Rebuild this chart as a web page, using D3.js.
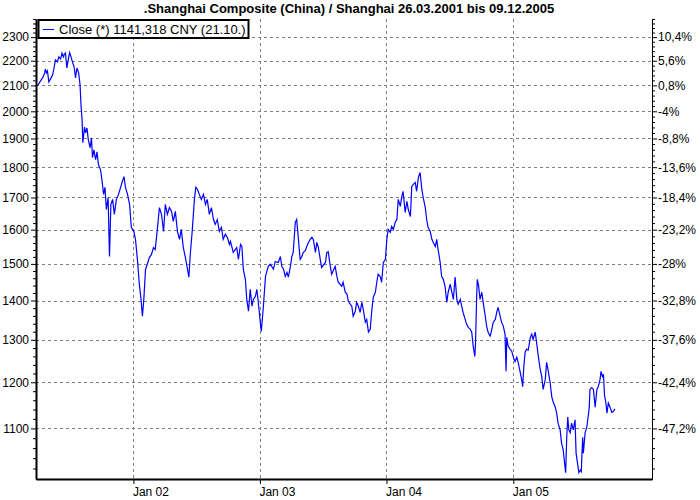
<!DOCTYPE html>
<html>
<head>
<meta charset="utf-8">
<script src="https://cdn.jsdelivr.net/npm/d3@7"></script>
<style>
  body { margin: 0; background: #fff; }
  svg { display: block; }
</style>
</head>
<body>
<div id="chart"></div>
<script>
// daily closes (date, CNY)
var closes2001 = [
  ["2001-03-27",2097],["2001-04-02",2104],["2001-04-08",2118],["2001-04-14",2130],["2001-04-20",2150],["2001-04-22",2166],["2001-04-25",2150],["2001-04-28",2158],
  ["2001-05-02",2114],["2001-05-07",2126],["2001-05-13",2142],["2001-05-17",2170],["2001-05-21",2203],["2001-05-27",2195],["2001-05-31",2216],
  ["2001-06-05",2207],["2001-06-09",2232],["2001-06-13",2216],["2001-06-16",2228],["2001-06-19",2232],["2001-06-23",2170],["2001-06-28",2212],
  ["2001-07-01",2234],["2001-07-05",2216],["2001-07-09",2195],["2001-07-14",2174],["2001-07-18",2130],["2001-07-22",2170],["2001-07-27",2150],["2001-07-31",2104],
  ["2001-08-03",2020],["2001-08-06",1967],["2001-08-08",1885],["2001-08-13",1941],["2001-08-16",1920],["2001-08-20",1938],["2001-08-24",1895],["2001-08-29",1867],
  ["2001-09-02",1902],["2001-09-05",1833],["2001-09-09",1860],["2001-09-14",1826],["2001-09-18",1853],["2001-09-22",1809],["2001-09-28",1792],
  ["2001-10-02",1759],["2001-10-07",1710],["2001-10-11",1733],["2001-10-15",1662],["2001-10-20",1700],["2001-10-24",1521],["2001-10-28",1678],
  ["2001-11-02",1694],["2001-11-07",1647],["2001-11-13",1694],["2001-11-19",1710],["2001-11-25",1733],["2001-11-30",1752],
  ["2001-12-05",1768],["2001-12-09",1733],["2001-12-15",1710],["2001-12-21",1678],["2001-12-26",1607]
];
var closes2002 = [
  ["2002-01-02",1595],["2002-01-07",1571],["2002-01-13",1507],["2002-01-18",1444],["2002-01-23",1403],["2002-01-27",1359],["2002-01-31",1403],
  ["2002-02-05",1485],["2002-02-10",1499],["2002-02-16",1518],["2002-02-22",1527],["2002-02-28",1547],
  ["2002-03-05",1541],["2002-03-11",1601],["2002-03-17",1668],["2002-03-23",1647],["2002-03-29",1595],
  ["2002-04-03",1678],["2002-04-09",1647],["2002-04-15",1668],["2002-04-21",1656],["2002-04-26",1625],
  ["2002-05-02",1656],["2002-05-08",1595],["2002-05-14",1571],["2002-05-19",1601],["2002-05-25",1547],["2002-05-31",1518],
  ["2002-06-06",1485],["2002-06-10",1463],["2002-06-14",1527],["2002-06-20",1601],["2002-06-26",1694],["2002-06-30",1733],
  ["2002-07-05",1726],["2002-07-10",1710],["2002-07-16",1694],["2002-07-22",1710],["2002-07-28",1678],
  ["2002-08-02",1694],["2002-08-08",1647],["2002-08-14",1668],["2002-08-20",1631],["2002-08-25",1616],["2002-08-31",1631],
  ["2002-09-06",1595],["2002-09-12",1607],["2002-09-17",1571],["2002-09-23",1586],["2002-09-29",1577],
  ["2002-10-05",1556],["2002-10-08",1565],["2002-10-16",1533],["2002-10-26",1547],["2002-10-31",1513],
  ["2002-11-06",1556],["2002-11-10",1550],["2002-11-14",1485],["2002-11-20",1457],["2002-11-24",1403],["2002-11-29",1372],
  ["2002-12-04",1430],["2002-12-09",1385],["2002-12-13",1403],["2002-12-19",1411],["2002-12-23",1430],["2002-12-27",1398]
];
var closes2003 = [
  ["2003-01-02",1344],["2003-01-05",1321],["2003-01-11",1385],["2003-01-17",1465],["2003-01-21",1479],["2003-01-25",1493],["2003-01-31",1499],
  ["2003-02-09",1485],["2003-02-14",1507],["2003-02-23",1504],
  ["2003-03-01",1521],["2003-03-05",1493],["2003-03-10",1485],["2003-03-15",1465],["2003-03-20",1476],["2003-03-24",1463],["2003-03-30",1493],
  ["2003-04-03",1521],["2003-04-07",1533],["2003-04-13",1622],["2003-04-17",1631],["2003-04-22",1571],["2003-04-27",1513],
  ["2003-05-02",1521],["2003-05-06",1533],["2003-05-12",1538],["2003-05-16",1550],["2003-05-21",1562],["2003-05-26",1571],["2003-05-31",1577],
  ["2003-06-04",1571],["2003-06-10",1533],["2003-06-14",1562],["2003-06-18",1550],["2003-06-24",1513],["2003-06-28",1490],
  ["2003-07-09",1504],["2003-07-13",1533],["2003-07-17",1535],["2003-07-23",1493],["2003-07-27",1471],
  ["2003-08-06",1493],["2003-08-11",1465],["2003-08-15",1449],["2003-08-25",1438],["2003-08-29",1449],
  ["2003-09-04",1422],["2003-09-09",1417],["2003-09-13",1398],["2003-09-19",1390],["2003-09-23",1385],["2003-09-27",1359],
  ["2003-10-03",1372],["2003-10-07",1395],["2003-10-12",1385],["2003-10-17",1369],["2003-10-22",1395],["2003-10-26",1377],
  ["2003-11-01",1344],["2003-11-05",1351],["2003-11-10",1319],["2003-11-15",1326],["2003-11-20",1377],["2003-11-24",1409],["2003-11-30",1422],
  ["2003-12-04",1449],["2003-12-08",1471],["2003-12-14",1465],["2003-12-18",1449],["2003-12-23",1504],["2003-12-29",1513]
];
var closes2004 = [
  ["2004-01-02",1571],["2004-01-06",1601],["2004-01-12",1592],["2004-01-16",1610],["2004-01-21",1601],["2004-01-26",1622],["2004-01-31",1631],
  ["2004-02-04",1694],["2004-02-10",1672],["2004-02-14",1703],["2004-02-18",1720],["2004-02-24",1653],["2004-02-29",1688],
  ["2004-03-04",1662],["2004-03-10",1640],["2004-03-14",1736],["2004-03-18",1742],["2004-03-24",1749],["2004-03-28",1720],
  ["2004-04-02",1765],["2004-04-07",1782],["2004-04-12",1726],["2004-04-16",1700],["2004-04-22",1668],["2004-04-26",1631],["2004-04-30",1607],
  ["2004-05-06",1595],["2004-05-11",1571],["2004-05-15",1562],["2004-05-21",1550],["2004-05-25",1571],["2004-05-29",1541],
  ["2004-06-04",1504],["2004-06-08",1465],["2004-06-13",1457],["2004-06-18",1438],["2004-06-23",1395],["2004-06-27",1422],
  ["2004-07-03",1444],["2004-07-07",1425],["2004-07-12",1403],["2004-07-17",1463],["2004-07-22",1403],["2004-07-26",1390],
  ["2004-08-01",1403],["2004-08-05",1385],["2004-08-09",1369],["2004-08-15",1351],["2004-08-19",1339],["2004-08-24",1331],["2004-08-30",1326],
  ["2004-09-03",1319],["2004-09-07",1285],["2004-09-12",1260],["2004-09-14",1294],["2004-09-17",1403],["2004-09-19",1457],["2004-09-23",1438],["2004-09-27",1403],
  ["2004-10-02",1422],["2004-10-06",1395],["2004-10-12",1359],["2004-10-16",1334],["2004-10-20",1319],["2004-10-26",1309],["2004-10-31",1326],
  ["2004-11-04",1344],["2004-11-10",1351],["2004-11-14",1369],["2004-11-18",1382],["2004-11-24",1359],["2004-11-28",1344],
  ["2004-12-03",1334],["2004-12-08",1314],["2004-12-11",1225],["2004-12-13",1306],["2004-12-17",1285],["2004-12-23",1277],["2004-12-27",1273]
];
var closes2005 = [
  ["2005-01-03",1253],["2005-01-06",1248],["2005-01-11",1258],["2005-01-15",1246],["2005-01-21",1222],["2005-01-25",1206],["2005-01-28",1190],["2005-01-31",1234],
  ["2005-02-04",1270],["2005-02-08",1277],["2005-02-13",1275],["2005-02-19",1306],["2005-02-23",1314],["2005-02-27",1301],
  ["2005-03-05",1319],["2005-03-09",1294],["2005-03-14",1260],["2005-03-19",1232],["2005-03-24",1213],["2005-03-28",1184],
  ["2005-04-03",1206],["2005-04-07",1246],["2005-04-11",1229],["2005-04-17",1200],["2005-04-22",1167],["2005-04-26",1156],
  ["2005-05-02",1145],["2005-05-06",1132],["2005-05-10",1111],["2005-05-16",1097],["2005-05-20",1070],["2005-05-25",1056],["2005-05-30",1023],
  ["2005-06-01",1012],["2005-06-04",1082],["2005-06-07",1124],["2005-06-10",1097],["2005-06-14",1091],["2005-06-18",1111],["2005-06-23",1097],["2005-06-28",1118],
  ["2005-07-01",1050],["2005-07-05",1031],["2005-07-09",1012],["2005-07-13",1017],["2005-07-16",1014],["2005-07-20",1082],["2005-07-22",1050],["2005-07-27",1091],
  ["2005-08-01",1103],["2005-08-06",1132],["2005-08-08",1145],["2005-08-10",1184],["2005-08-15",1188],["2005-08-20",1184],["2005-08-25",1145],["2005-08-30",1184],
  ["2005-09-03",1190],["2005-09-08",1206],["2005-09-11",1225],["2005-09-15",1213],["2005-09-18",1218],["2005-09-21",1171],["2005-09-25",1154],["2005-09-28",1132],
  ["2005-10-02",1154],["2005-10-07",1145],["2005-10-12",1134],["2005-10-17",1136],["2005-10-21",1141.318]
];

var leftTicks = [2300, 2200, 2100, 2000, 1900, 1800, 1700, 1600, 1500, 1400, 1300, 1200, 1100];
var rightLabels = ["10,4%", "5,6%", "0,8%", "-4%", "-8,8%", "-13,6%", "-18,4%", "-23,2%", "-28%", "-32,8%", "-37,6%", "-42,4%", "-47,2%"];
var xTickDates = ["2002-01-01", "2003-01-01", "2004-01-01", "2005-01-01"];
var xTickLabels = ["Jan 02", "Jan 03", "Jan 04", "Jan 05"];

var title = ".Shanghai Composite (China) / Shanghai 26.03.2001 bis 09.12.2005";
var seriesName = "Close (*)";
var currency = "CNY";
var lastLabel = "21.10.";

var fullWidth = 700, fullHeight = 500;
var plotLeft = 36, plotRight = 652, plotTop = 19, plotBottom = 479;
var font = "'Liberation Sans', Arial, sans-serif";

var parseDate = d3.timeParse("%Y-%m-%d");
var rows = [].concat(closes2001, closes2002, closes2003, closes2004, closes2005)
    .map(function (d) { return { date: parseDate(d[0]), close: d[1] }; });

var x = d3.scaleTime()
    .domain([parseDate("2001-03-26"), parseDate("2006-02-05")])
    .range([plotLeft, plotRight]);

var y = d3.scaleLog()
    .domain([1000, 2380])
    .range([plotBottom, plotTop]);

var minorTicks = d3.range(1000, 2381, 20).filter(function (v) { return v % 100 !== 0; });

var svg = d3.select("#chart").append("svg")
    .attr("width", fullWidth).attr("height", fullHeight)
    .style("background", "#fff");

// grid
var grid = svg.append("g").attr("stroke", "#808080").attr("stroke-dasharray", "3,3").attr("stroke-width", 1);
grid.selectAll(".h").data(leftTicks).enter().append("line")
    .attr("x1", plotLeft).attr("x2", plotRight)
    .attr("y1", function (d) { return Math.round(y(d)) + 0.5; })
    .attr("y2", function (d) { return Math.round(y(d)) + 0.5; });
grid.selectAll(".v").data(xTickDates).enter().append("line")
    .attr("y1", plotTop).attr("y2", plotBottom)
    .attr("x1", function (d) { return Math.round(x(parseDate(d))) + 0.5; })
    .attr("x2", function (d) { return Math.round(x(parseDate(d))) + 0.5; });

// price line
var line = d3.line()
    .x(function (d) { return x(d.date); })
    .y(function (d) { return y(d.close); })
    .curve(d3.curveLinear);

svg.append("path")
    .datum(rows)
    .attr("fill", "none")
    .attr("stroke", "#0000ff")
    .attr("stroke-width", 1.2)
    .attr("d", line);

function styleAxis(g) {
    g.attr("font-family", font).attr("font-size", 12);
    g.selectAll("text").attr("fill", "#000");
    g.selectAll("line").attr("stroke", "#000");
    g.select(".domain").attr("stroke", "#000");
}

// left axis
var yAxis = d3.axisLeft(y).tickValues(leftTicks).tickFormat(d3.format("d"))
    .tickSize(5).tickSizeOuter(0).tickPadding(2);
svg.append("g").attr("transform", "translate(" + plotLeft + ",0)")
    .call(yAxis).call(styleAxis)
    .select(".domain").attr("stroke-width", 2);
svg.append("g").attr("transform", "translate(" + plotLeft + ",0)")
    .call(d3.axisLeft(y).tickValues(minorTicks).tickFormat("").tickSize(3).tickSizeOuter(0))
    .call(styleAxis);

// right axis (change vs. start)
var yAxisRight = d3.axisRight(y).tickValues(leftTicks)
    .tickFormat(function (d, i) { return rightLabels[i]; })
    .tickSize(5).tickSizeOuter(0).tickPadding(1);
svg.append("g").attr("transform", "translate(" + plotRight + ",0)")
    .call(yAxisRight).call(styleAxis);
svg.append("g").attr("transform", "translate(" + plotRight + ",0)")
    .call(d3.axisRight(y).tickValues(minorTicks).tickFormat("").tickSize(3).tickSizeOuter(0))
    .call(styleAxis);

// bottom axis
var xAxis = d3.axisBottom(x).tickValues(xTickDates.map(parseDate))
    .tickFormat(function (d, i) { return xTickLabels[i]; })
    .tickSize(5).tickSizeOuter(0).tickPadding(3);
var xg = svg.append("g").attr("transform", "translate(0," + plotBottom + ")")
    .call(xAxis).call(styleAxis);
xg.select(".domain").attr("stroke-width", 2);
xg.selectAll(".tick text").attr("text-anchor", "start").attr("x", -1);

// title
svg.append("text")
    .attr("x", 349).attr("y", 13)
    .attr("text-anchor", "middle")
    .attr("font-family", font).attr("font-size", 13).attr("font-weight", "bold")
    .text(title);

// legend
var de = d3.formatLocale({ decimal: ",", thousands: ".", grouping: [3], currency: ["", ""], minus: "-" });
var last = rows[rows.length - 1];
var legend = svg.append("g");
legend.append("rect")
    .attr("x", 38.5).attr("y", 20).attr("width", 210).attr("height", 18)
    .attr("fill", "#fff").attr("stroke", "#000").attr("stroke-width", 2);
legend.append("line")
    .attr("x1", 43).attr("x2", 54).attr("y1", 29.5).attr("y2", 29.5)
    .attr("stroke", "#0000ff").attr("stroke-width", 1);
legend.append("text")
    .attr("x", 59).attr("y", 34)
    .attr("font-family", font).attr("font-size", 13)
    .text(seriesName + " " + de.format(".3f")(last.close) + " " + currency + " (" + lastLabel + ")");
</script>
</body>
</html>
